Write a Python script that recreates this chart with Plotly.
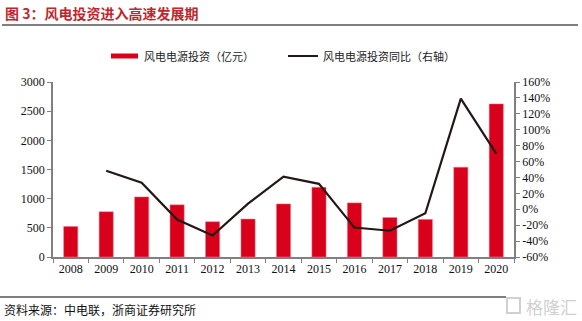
import plotly.graph_objects as go

years = ["2008", "2009", "2010", "2011", "2012", "2013", "2014", "2015", "2016", "2017", "2018", "2019", "2020"]
investment = [524, 776, 1030, 895, 605, 651, 910, 1195, 928, 677, 645, 1540, 2625]
yoy_pct = [None, 48.5, 33.4, -13, -33, 7, 41, 32, -23, -27, -5, 139, 70]

left_ticks = [0, 500, 1000, 1500, 2000, 2500, 3000]
right_ticks = list(range(-60, 161, 20))

bar_name = "风电电源投资（亿元）"
line_name = "风电电源投资同比（右轴）"

CJK = "Noto Sans CJK SC"
SERIF = "Liberation Serif"
RED = "#d9001b"
DARK = "#231815"

fig = go.Figure()
fig.add_trace(go.Bar(
    x=years, y=investment, name=bar_name,
    marker=dict(color=RED, line=dict(color="#f08090", width=0.5)),
    width=0.4, yaxis="y",
))
fig.add_trace(go.Scatter(
    x=years, y=yoy_pct, name=line_name,
    mode="lines", line=dict(color=DARK, width=2.2), yaxis="y2",
))

W, H = 582, 321
ml, mr, mt, mb = 53, 68, 82, 64
pw, ph = W - ml - mr, H - mt - mb


def px(x):
    return (x - ml) / pw


def py(y):
    return (H - mb - y) / ph


fig.update_layout(
    width=W, height=H,
    margin=dict(l=ml, r=mr, t=mt, b=mb),
    paper_bgcolor="white", plot_bgcolor="white",
    showlegend=False,
    xaxis=dict(
        type="category", range=[-0.5, 12.5], tickson="boundaries",
        ticks="outside", ticklen=4, tickcolor="#808080",
        showline=True, linecolor="#808080", linewidth=1.5,
        tickfont=dict(family=SERIF, size=12, color="#111"),
        showgrid=False,
    ),
    yaxis=dict(
        range=[0, 3000], tickvals=left_ticks,
        ticks="outside", ticklen=4, tickcolor="#808080",
        showline=True, linecolor="#808080", linewidth=1.5,
        tickfont=dict(family=SERIF, size=12, color="#111"),
        showgrid=False, zeroline=False,
    ),
    yaxis2=dict(
        range=[-60, 160], tickvals=right_ticks,
        ticktext=[f"{v}%" for v in right_ticks],
        overlaying="y", side="right",
        ticks="outside", ticklen=4, tickcolor="#808080",
        showline=True, linecolor="#808080", linewidth=1.5,
        tickfont=dict(family=SERIF, size=12, color="#111"),
        showgrid=False, zeroline=False,
    ),
)

# Manual legend
fig.add_shape(type="rect", xref="paper", yref="paper",
              x0=px(111), x1=px(138), y0=py(58.5), y1=py(53.5),
              fillcolor=RED, line=dict(width=0))
fig.add_annotation(xref="paper", yref="paper", x=px(142), y=py(56),
                   text=bar_name, showarrow=False, xanchor="left", yanchor="middle",
                   font=dict(family=CJK, size=11, color="#222"))
fig.add_shape(type="line", xref="paper", yref="paper",
              x0=px(288), x1=px(318), y0=py(56), y1=py(56),
              line=dict(color=DARK, width=2))
fig.add_annotation(xref="paper", yref="paper", x=px(321), y=py(56),
                   text=line_name, showarrow=False, xanchor="left", yanchor="middle",
                   font=dict(family=CJK, size=11, color="#222"))

# Title, rules, source, watermark
fig.add_annotation(xref="paper", yref="paper", x=px(3), y=py(13),
                   text="<b>图 3：风电投资进入高速发展期</b>", showarrow=False,
                   xanchor="left", yanchor="middle",
                   font=dict(family=CJK, size=14, color="#c0272d"))
fig.add_shape(type="line", xref="paper", yref="paper",
              x0=px(2), x1=px(578), y0=py(25), y1=py(25),
              line=dict(color="#000", width=1.2))
fig.add_shape(type="line", xref="paper", yref="paper",
              x0=px(0), x1=px(506), y0=py(297), y1=py(297),
              line=dict(color="#000", width=1.2))
fig.add_annotation(xref="paper", yref="paper", x=px(2), y=py(309),
                   text="资料来源：中电联，浙商证券研究所", showarrow=False,
                   xanchor="left", yanchor="middle",
                   font=dict(family=CJK, size=12, color="#111"))
fig.add_shape(type="rect", xref="paper", yref="paper",
              x0=px(507), x1=px(520), y0=py(313), y1=py(298),
              line=dict(color="#d0d0d0", width=2))
fig.add_annotation(xref="paper", yref="paper", x=px(524), y=py(306),
                   text="格隆汇", showarrow=False,
                   xanchor="left", yanchor="middle",
                   font=dict(family=CJK, size=17, color="#d0d0d0"))

fig.write_html("out.html")
